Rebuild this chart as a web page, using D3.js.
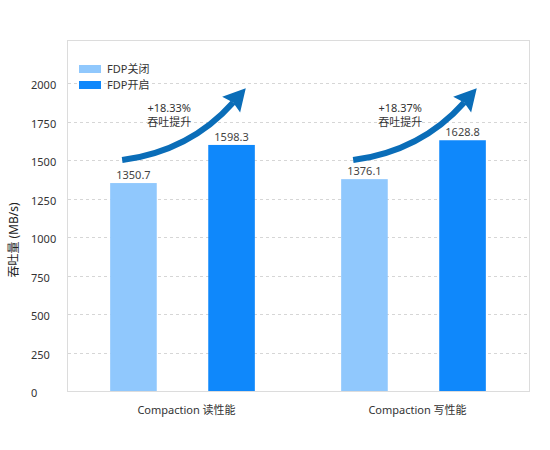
<!DOCTYPE html>
<html>
<head>
<meta charset="utf-8">
<script src="https://cdn.jsdelivr.net/npm/d3@7"></script>
<style>
  body { margin: 0; background: #fff; }
  text { font-family: "Noto Sans", "Noto Sans CJK SC", sans-serif; }
</style>
</head>
<body>
<svg id="chart"></svg>
<script>
"use strict";

var categories = ['Compaction 读性能', 'Compaction 写性能'];
var seriesNames = ['FDP关闭', 'FDP开启'];
var fdpOff = [1350.7, 1376.1];
var fdpOn = [1598.3, 1628.8];
var gains = ['+18.33%', '+18.37%'];
var yTicks = [0, 250, 500, 750, 1000, 1250, 1500, 1750, 2000];

var colors = ['#90c8fd', '#0f88fb'];
var arrowColor = '#0a6db8';

var width = 550, height = 450;
var plotLeft = 67, plotRight = 529, plotTop = 40, plotBottom = 391;

var svg = d3.select('#chart')
    .attr('width', width)
    .attr('height', height);

var x0 = d3.scaleBand()
    .domain(categories)
    .range([plotLeft, plotRight])
    .padding(0);

var x1 = d3.scaleBand()
    .domain(seriesNames)
    .range([0, x0.bandwidth()])
    .paddingInner(0.525)
    .paddingOuter(0.44);

var y = d3.scaleLinear()
    .domain([0, 2280])
    .range([plotBottom, plotTop]);

// frame
svg.append('rect')
    .attr('x', plotLeft + 0.5)
    .attr('y', plotTop + 0.5)
    .attr('width', plotRight - plotLeft)
    .attr('height', plotBottom - plotTop)
    .attr('fill', 'none')
    .attr('stroke', '#dcdcdc');

// grid
svg.append('g')
    .selectAll('line')
    .data(yTicks.filter(d => d > 0))
    .enter()
    .append('line')
    .attr('x1', plotLeft + 1)
    .attr('x2', plotRight - 1)
    .attr('y1', d => Math.round(y(d)) + 0.5)
    .attr('y2', d => Math.round(y(d)) + 0.5)
    .attr('stroke', '#d6d6d6')
    .attr('stroke-dasharray', '3,3');

// y tick labels (left aligned)
svg.append('g')
    .selectAll('text')
    .data(yTicks)
    .enter()
    .append('text')
    .attr('x', 31)
    .attr('y', d => y(d) + 6)
    .attr('font-size', 11)
    .attr('fill', '#333')
    .text(d => d);

// y title
svg.append('text')
    .attr('transform', 'translate(18,240) rotate(-90)')
    .attr('text-anchor', 'middle')
    .attr('font-size', 12)
    .attr('fill', '#222')
    .text('吞吐量 (MB/s)');

// bars
var rows = categories.map((c, i) => ({
    cat: c,
    values: [
        { name: seriesNames[0], value: fdpOff[i] },
        { name: seriesNames[1], value: fdpOn[i] }
    ]
}));

var groups = svg.append('g')
    .selectAll('g')
    .data(rows)
    .enter()
    .append('g')
    .attr('transform', d => `translate(${x0(d.cat)},0)`);

groups.selectAll('rect')
    .data(d => d.values)
    .enter()
    .append('rect')
    .attr('x', d => x1(d.name))
    .attr('y', d => y(d.value))
    .attr('width', x1.bandwidth())
    .attr('height', d => y(0) - y(d.value))
    .attr('fill', (d, i) => colors[i]);

groups.selectAll('text.val')
    .data(d => d.values)
    .enter()
    .append('text')
    .attr('class', 'val')
    .attr('x', d => x1(d.name) + x1.bandwidth() / 2)
    .attr('y', d => y(d.value) - 4)
    .attr('text-anchor', 'middle')
    .attr('font-size', 11)
    .attr('fill', '#444')
    .text(d => d.value);

// x labels
svg.append('g')
    .selectAll('text')
    .data(categories)
    .enter()
    .append('text')
    .attr('x', d => x0(d) + x0.bandwidth() / 2 + 4)
    .attr('y', 414)
    .attr('text-anchor', 'middle')
    .attr('font-size', 11)
    .attr('fill', '#333')
    .text(d => d);

// arrows
groups.each(function(d, i) {
    var g = d3.select(this);
    var x = x1(seriesNames[0]);
    var p0 = [x + 12, y(1500)];
    var c = [x + 80, y(1560)];
    var p1 = [x + 121, y(1860)];
    var dx = p1[0] - c[0], dy = p1[1] - c[1];
    var len = Math.sqrt(dx * dx + dy * dy);
    var ux = dx / len, uy = dy / len;
    var half = 12, headLen = 22;
    var tip = [p1[0] + ux * headLen, p1[1] + uy * headLen];
    var b1 = [p1[0] - uy * half, p1[1] + ux * half];
    var b2 = [p1[0] + uy * half, p1[1] - ux * half];
    var notch = [p1[0] + ux * 3, p1[1] + uy * 3];

    var path = d3.path();
    path.moveTo(p0[0], p0[1]);
    path.quadraticCurveTo(c[0], c[1], notch[0], notch[1]);
    g.append('path')
        .attr('d', path.toString())
        .attr('fill', 'none')
        .attr('stroke', arrowColor)
        .attr('stroke-width', 6);

    g.append('path')
        .attr('d', `M${b1}L${tip}L${b2}L${notch}Z`)
        .attr('fill', arrowColor);

    g.append('text')
        .attr('x', x + 59)
        .attr('y', y(1750) - 10)
        .attr('text-anchor', 'middle')
        .attr('font-size', 11)
        .attr('fill', '#333')
        .text(gains[i]);

    g.append('text')
        .attr('x', x + 59)
        .attr('y', y(1750) + 4)
        .attr('text-anchor', 'middle')
        .attr('font-size', 11)
        .attr('fill', '#333')
        .text('吞吐提升');
});

// legend
var legend = svg.append('g')
    .selectAll('g')
    .data(seriesNames)
    .enter()
    .append('g')
    .attr('transform', (d, i) => `translate(79,${65 + i * 16})`);

legend.append('rect')
    .attr('width', 22)
    .attr('height', 8)
    .attr('fill', (d, i) => colors[i]);

legend.append('text')
    .attr('x', 28)
    .attr('y', 8)
    .attr('font-size', 11)
    .attr('fill', '#333')
    .text(d => d);
</script>
</body>
</html>
